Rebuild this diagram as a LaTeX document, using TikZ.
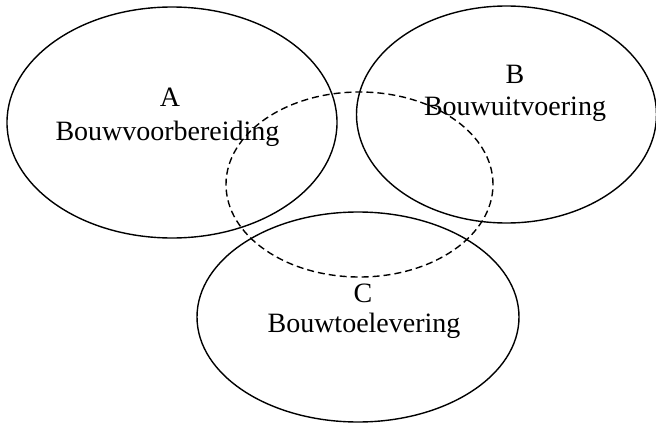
\documentclass[tikz,border=0pt]{standalone}
\usepackage{fontspec}
\setmainfont{Liberation Serif}
\usetikzlibrary{shapes.geometric}
\begin{document}
\begin{tikzpicture}[x=1pt,y=-1pt,
  set/.style={draw=black, line width=1.4pt, ellipse, inner sep=0pt, outer sep=0pt},
  dashset/.style={set, dash pattern=on 7pt off 4pt},
  lbl/.style={anchor=base, inner sep=0pt, font=\fontsize{28}{32}\selectfont}]
\useasboundingbox (0,0) rectangle (656,423);
\node[set, minimum width=330pt, minimum height=231pt] (A) at (172,122.5) {};
\node[set, minimum width=300pt, minimum height=217pt] (B) at (506.5,114.5) {};
\node[dashset, minimum width=267pt, minimum height=185pt] (D) at (359.5,184.5) {};
\node[set, minimum width=322pt, minimum height=210pt] (C) at (358,317) {};
\node[lbl] (Aa) at (170,106) {A};
\node[lbl] (At) at (167.5,140) {Bouwvoorbereiding};
\node[lbl] (Ba) at (515,83) {B};
\node[lbl] (Bt) at (515,115) {Bouwuitvoering};
\node[lbl] (Ca) at (363,302) {C};
\node[lbl] (Ct) at (364,332) {Bouwtoelevering};
\end{tikzpicture}
\end{document}
